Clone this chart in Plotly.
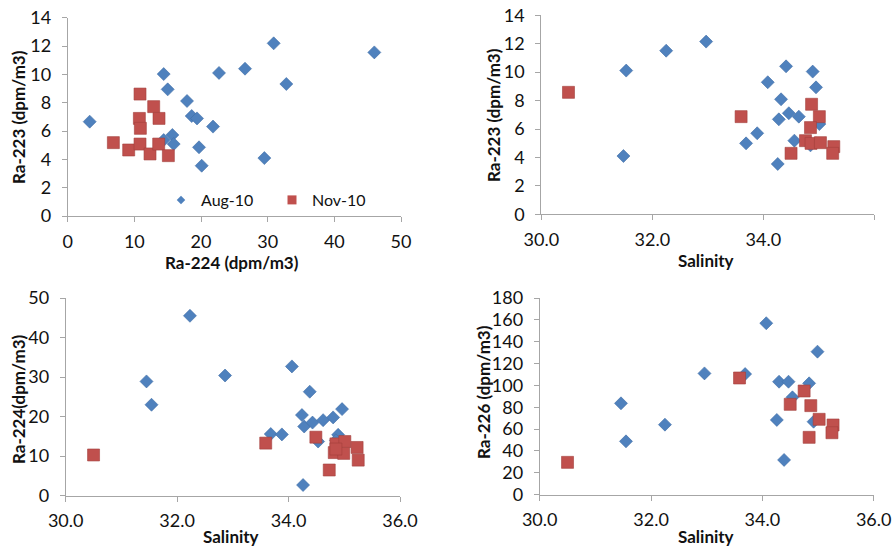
import plotly.graph_objects as go
from plotly.subplots import make_subplots

# ---------------- data ----------------
# Panel 1: Ra-224 vs Ra-223
p1_aug_ra224 = [3.3, 14.4, 15.0, 17.9, 18.6, 19.4, 21.8, 15.7, 14.4, 15.9, 19.7, 20.1, 22.7, 26.6, 30.9, 32.8, 29.5, 46.0]
p1_aug_ra223 = [6.66, 10.02, 8.94, 8.12, 7.06, 6.89, 6.31, 5.72, 5.36, 5.08, 4.85, 3.55, 10.1, 10.4, 12.19, 9.32, 4.09, 11.55]
p1_nov_ra224 = [10.85, 12.9, 10.75, 13.7, 10.9, 6.85, 9.15, 10.85, 12.35, 13.65, 15.1]
p1_nov_ra223 = [8.61, 7.72, 6.89, 6.89, 6.19, 5.18, 4.66, 5.08, 4.38, 5.08, 4.26]

# Panel 2: Salinity vs Ra-223
p2_aug_sal = [31.53, 31.48, 32.25, 32.97, 33.69, 33.89, 34.08, 34.32, 34.28, 34.41, 34.46, 34.64, 34.56, 34.26, 34.89, 34.95, 35.01, 34.85]
p2_aug_ra223 = [10.11, 4.10, 11.51, 12.15, 4.99, 5.70, 9.29, 8.09, 6.68, 10.41, 7.11, 6.87, 5.18, 3.54, 10.04, 8.93, 6.35, 4.85]
p2_nov_sal = [30.49, 33.60, 34.87, 35.01, 34.85, 34.76, 34.86, 35.03, 34.50, 35.27, 35.25]
p2_nov_ra223 = [8.58, 6.87, 7.74, 6.87, 6.10, 5.18, 4.99, 5.04, 4.29, 4.76, 4.29]

# Panel 3: Salinity vs Ra-224
p3_aug_sal = [32.23, 31.45, 31.54, 32.86, 34.06, 34.38, 34.24, 34.28, 34.43, 34.62, 34.80, 34.96, 33.68, 33.88, 34.53, 34.89, 34.85, 34.26]
p3_aug_ra224 = [45.5, 28.9, 23.0, 30.4, 32.7, 26.3, 20.4, 17.5, 18.5, 19.1, 19.8, 21.9, 15.6, 15.5, 13.7, 15.4, 14.0, 2.7]
p3_nov_sal = [30.50, 33.59, 34.49, 34.85, 35.01, 35.23, 34.82, 34.99, 35.25, 34.73, 34.85]
p3_nov_ra224 = [10.3, 13.3, 14.8, 13.1, 13.7, 12.2, 10.9, 10.7, 9.0, 6.5, 11.8]

# Panel 4: Salinity vs Ra-226
p4_aug_sal = [34.07, 34.99, 32.96, 33.69, 34.30, 34.47, 34.84, 34.54, 31.46, 31.55, 32.25, 34.26, 34.39, 34.92]
p4_aug_ra226 = [156.9, 130.9, 111.0, 110.4, 103.4, 103.4, 101.9, 89.1, 83.6, 48.8, 64.1, 68.4, 31.8, 66.8]
p4_nov_sal = [30.50, 33.59, 34.75, 34.50, 34.87, 35.02, 35.27, 35.25, 34.84]
p4_nov_ra226 = [29.6, 106.8, 94.9, 82.7, 81.5, 69.0, 63.8, 56.7, 52.5]

series_names = ["Aug-10", "Nov-10"]

# ---------------- styling ----------------
BLUE = "#4F81BD"
BLUE_EDGE = "#3F6DA6"
RED = "#C0504D"
RED_EDGE = "#A33F3C"
AX = "#A6A6A6"
FONT = "Lato"
TXT = "#111111"

W, H = 892, 548

fig = make_subplots(rows=2, cols=2)

def add_pair(xa, ya, xb, yb, row, col):
    fig.add_trace(go.Scatter(x=xa, y=ya, mode="markers", name=series_names[0],
                             marker=dict(symbol="diamond", size=10, color=BLUE,
                                         line=dict(color=BLUE_EDGE, width=0.6)),
                             showlegend=False, cliponaxis=False), row=row, col=col)
    fig.add_trace(go.Scatter(x=xb, y=yb, mode="markers", name=series_names[1],
                             marker=dict(symbol="square", size=12, color=RED,
                                         line=dict(color=RED_EDGE, width=0.6)),
                             showlegend=False, cliponaxis=False), row=row, col=col)

add_pair(p1_aug_ra224, p1_aug_ra223, p1_nov_ra224, p1_nov_ra223, 1, 1)
add_pair(p2_aug_sal, p2_aug_ra223, p2_nov_sal, p2_nov_ra223, 1, 2)
add_pair(p3_aug_sal, p3_aug_ra224, p3_nov_sal, p3_nov_ra224, 2, 1)
add_pair(p4_aug_sal, p4_aug_ra226, p4_nov_sal, p4_nov_ra226, 2, 2)

# legend-only entries (smaller legend symbols, as in the original)
fig.add_trace(go.Scatter(x=[None], y=[None], mode="markers", name=series_names[0],
                         marker=dict(symbol="diamond", size=6.5, color=BLUE), showlegend=True), row=1, col=1)
fig.add_trace(go.Scatter(x=[None], y=[None], mode="markers", name=series_names[1],
                         marker=dict(symbol="square", size=9, color=RED), showlegend=True), row=1, col=1)

def px_dom_x(a, b):
    return [a / W, b / W]

def px_dom_y(top, bottom):
    return [1 - bottom / H, 1 - top / H]

axis_common = dict(showgrid=False, zeroline=False, showline=True, linecolor=AX, linewidth=1,
                   ticks="outside", ticklen=5, tickcolor=AX, tickwidth=1, automargin=False,
                   tickfont=dict(family=FONT, size=18, color=TXT))
xax = dict(ticklabelstandoff=4, **axis_common)
yax = dict(ticklabelstandoff=7, **axis_common)

fig.update_layout(
    xaxis=dict(domain=px_dom_x(67.7, 401), range=[0, 50], dtick=10, **xax),
    yaxis=dict(domain=px_dom_y(17.7, 216), range=[0, 14], dtick=2, **yax),
    xaxis2=dict(domain=px_dom_x(541.3, 874.3), range=[30, 36], dtick=2, tickformat=".1f", **xax),
    yaxis2=dict(domain=px_dom_y(15.3, 214.3), range=[0, 14], dtick=2, **yax),
    xaxis3=dict(domain=px_dom_x(65.7, 400), range=[30, 36], dtick=2, tickformat=".1f", **xax),
    yaxis3=dict(domain=px_dom_y(298, 495.7), range=[0, 50], dtick=10, **yax),
    xaxis4=dict(domain=px_dom_x(539.7, 873.7), range=[30, 36], dtick=2, tickformat=".1f", **xax),
    yaxis4=dict(domain=px_dom_y(298, 494.7), range=[0, 180], dtick=20, **yax),
)

title_font = dict(family=FONT, size=17, color=TXT)

def title(text, xp, yp, angle=0):
    fig.add_annotation(text="<b>%s</b>" % text, x=xp / W, y=1 - yp / H, xref="paper", yref="paper",
                       showarrow=False, textangle=angle, font=title_font,
                       xanchor="center", yanchor="middle")

title("Ra-224 (dpm/m3)", 232, 262)
title("Ra-223 (dpm/m3)", 19, 117, -90)
title("Salinity", 706, 260)
title("Ra-223 (dpm/m3)", 493, 115, -90)
title("Salinity", 231, 536)
title("Ra-224(dpm/m3)", 18, 399, -90)
title("Salinity", 706, 536)
title("Ra-226 (dpm/m3)", 483, 392, -90)

fig.update_layout(
    width=W, height=H,
    margin=dict(l=0, r=0, t=0, b=0),
    paper_bgcolor="white", plot_bgcolor="white",
    font=dict(family=FONT),
    showlegend=True,
    legend=dict(orientation="h", x=161 / W, y=1 - 200 / H, xanchor="left", yanchor="middle",
                bgcolor="rgba(0,0,0,0)", font=dict(family=FONT, size=16, color=TXT),
                entrywidth=66),
)

fig.write_html("out.html", config={"displayModeBar": False},
               post_script="document.body.style.margin='0';document.body.style.overflow='hidden';"
                           "window.dispatchEvent(new Event('resize'));")
